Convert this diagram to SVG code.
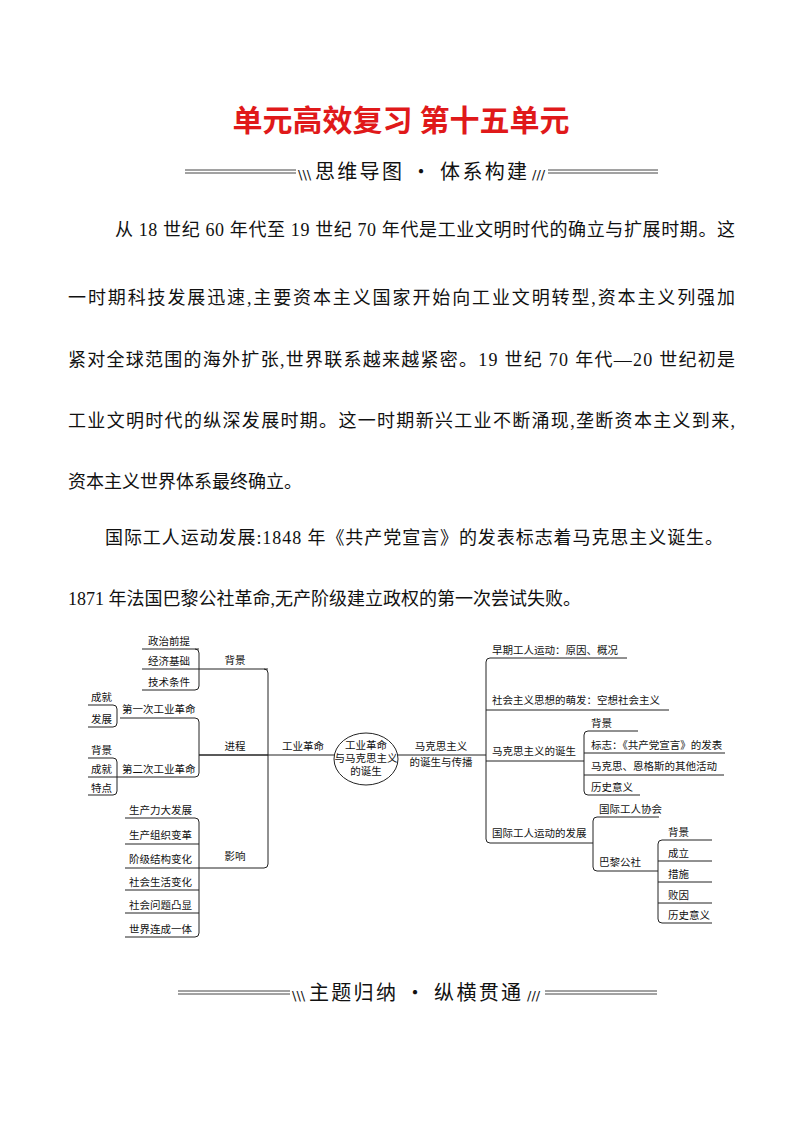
<svg xmlns="http://www.w3.org/2000/svg" width="800" height="1132" viewBox="0 0 800 1132">
<style>
text{font-family:"Liberation Serif","Noto Sans CJK SC",serif;fill:#111}
.t{font-size:30px;font-weight:bold;fill:#e0191a;font-family:"Noto Sans CJK SC",sans-serif}
.b{font-size:20px;font-family:"Noto Sans CJK SC",sans-serif}
.s{font-size:13px;font-family:"DejaVu Sans",sans-serif}
.p{font-size:18px;font-family:"Liberation Serif","Noto Sans CJK SC",serif}
.m{font-size:10.5px;font-family:"Noto Sans CJK SC",sans-serif}
.c{text-anchor:middle}
.l{fill:none;stroke:#222;stroke-width:1}
.d{stroke:#444;stroke-width:1}
</style>
<rect width="800" height="1132" fill="#fff"/>
<text class="t c" x="401" y="131">单元高效复习 第十五单元</text>
<g id="banner1">
<line class="d" x1="185" y1="170" x2="296" y2="170"/><line class="d" x1="185" y1="173" x2="296" y2="173"/>
<line class="d" x1="548" y1="170" x2="658" y2="170"/><line class="d" x1="548" y1="173" x2="658" y2="173"/>
<text class="s" x="298" y="179">\\\</text>
<text class="b" x="315" y="179" textLength="212" lengthAdjust="spacing">思维导图 · 体系构建</text>
<text class="s" x="532" y="179">///</text>
</g>
<g id="text">
<text class="p" x="115" y="236" textLength="620" lengthAdjust="spacing">从 18 世纪 60 年代至 19 世纪 70 年代是工业文明时代的确立与扩展时期。这</text>
<text class="p" x="68" y="304" textLength="667" lengthAdjust="spacing">一时期科技发展迅速,主要资本主义国家开始向工业文明转型,资本主义列强加</text>
<text class="p" x="68" y="366" textLength="667" lengthAdjust="spacing">紧对全球范围的海外扩张,世界联系越来越紧密。19 世纪 70 年代—20 世纪初是</text>
<text class="p" x="68" y="427" textLength="667" lengthAdjust="spacing">工业文明时代的纵深发展时期。这一时期新兴工业不断涌现,垄断资本主义到来,</text>
<text class="p" x="68" y="488">资本主义世界体系最终确立。</text>
<text class="p" x="105" y="544" textLength="618" lengthAdjust="spacing">国际工人运动发展:1848 年《共产党宣言》的发表标志着马克思主义诞生。</text>
<text class="p" x="68" y="605">1871 年法国巴黎公社革命,无产阶级建立政权的第一次尝试失败。</text>
</g>
<g id="connectors">
<path class="l" d="M142 649H199M142 669H268M142 690H195Q199 690 199 686V653Q199 649 195 649"/>
<path class="l" d="M264 669Q268 669 268 673V864Q268 868 264 868H199M199 755H398"/>
<path class="l" d="M120 718H195Q199 718 199 722V773Q199 777 195 777H117M199 755H268"/>
<path class="l" d="M88 705H113Q117 705 117 709V723Q117 727 113 727H88"/>
<path class="l" d="M88 758H113Q117 758 117 762V791Q117 795 113 795H88M88 777H117"/>
<path class="l" d="M125 818H195Q199 818 199 822V933Q199 937 195 937H125M125 844H199M125 868H199M125 890H199M125 913H199"/>
<path class="l" d="M398 755H486M627 658H490Q486 658 486 662V839Q486 843 490 843H593M486 710H669M486 761H584"/>
<path class="l" d="M638 731H588Q584 731 584 735V791Q584 795 588 795H640M584 753H725M584 775H724"/>
<path class="l" d="M659 817H597Q593 817 593 821V867Q593 871 597 871H658"/>
<path class="l" d="M712 840H662Q658 840 658 844V919Q658 923 662 923H712M658 861H712M658 882H712M658 903H712"/>
</g>
<g id="center"><ellipse cx="366" cy="759" rx="32" ry="26" fill="#fff" stroke="#222"/>
<text class="m c" x="366" y="749">工业革命</text><text class="m c" x="366" y="762">与马克思主义</text><text class="m c" x="366" y="775">的诞生</text></g>
<g id="left">
<text class="m" x="148" y="645">政治前提</text><text class="m" x="148" y="665">经济基础</text><text class="m" x="148" y="686">技术条件</text>
<text class="m c" x="235" y="664">背景</text><text class="m c" x="235" y="750">进程</text><text class="m c" x="235" y="860">影响</text>
<text class="m c" x="303" y="750">工业革命</text>
<text class="m" x="122" y="713">第一次工业革命</text><text class="m" x="122" y="773">第二次工业革命</text>
<text class="m" x="91" y="701">成就</text><text class="m" x="91" y="723">发展</text>
<text class="m" x="91" y="754">背景</text><text class="m" x="91" y="773">成就</text><text class="m" x="91" y="792">特点</text>
<text class="m" x="129" y="814">生产力大发展</text><text class="m" x="129" y="839">生产组织变革</text><text class="m" x="129" y="863">阶级结构变化</text><text class="m" x="129" y="886">社会生活变化</text><text class="m" x="129" y="909">社会问题凸显</text><text class="m" x="129" y="933">世界连成一体</text>
</g>
<g id="right">
<text class="m c" x="441" y="750">马克思主义</text><text class="m c" x="441" y="766">的诞生与传播</text>
<text class="m" x="492" y="654">早期工人运动：原因、概况</text>
<text class="m" x="492" y="704">社会主义思想的萌发：空想社会主义</text>
<text class="m" x="492" y="755">马克思主义的诞生</text>
<text class="m" x="492" y="837">国际工人运动的发展</text>
<text class="m" x="591" y="727">背景</text><text class="m" x="591" y="749">标志：《共产党宣言》的发表</text><text class="m" x="591" y="770">马克思、恩格斯的其他活动</text><text class="m" x="591" y="791">历史意义</text>
<text class="m" x="599" y="813">国际工人协会</text><text class="m" x="599" y="866">巴黎公社</text>
<text class="m" x="668" y="836">背景</text><text class="m" x="668" y="857">成立</text><text class="m" x="668" y="878">措施</text><text class="m" x="668" y="899">败因</text><text class="m" x="668" y="919">历史意义</text>
</g>
<g id="banner2">
<line class="d" x1="178" y1="991" x2="290" y2="991"/><line class="d" x1="178" y1="994" x2="290" y2="994"/>
<line class="d" x1="545" y1="991" x2="657" y2="991"/><line class="d" x1="545" y1="994" x2="657" y2="994"/>
<text class="s" x="292" y="1000">\\\</text>
<text class="b" x="309" y="1000" textLength="212" lengthAdjust="spacing">主题归纳 · 纵横贯通</text>
<text class="s" x="527" y="1000">///</text>
</g>
</svg>
